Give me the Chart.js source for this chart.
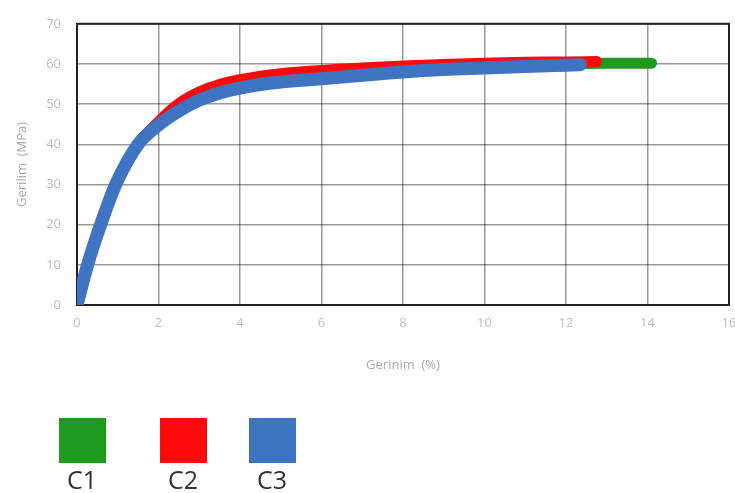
<!DOCTYPE html>
<html>
<head>
<meta charset="utf-8">
<script src="https://cdn.jsdelivr.net/npm/chart.js@4"></script>
<style>
  html, body { margin: 0; padding: 0; background: #fff; }
  #wrap { position: relative; width: 735px; height: 493px; }
  #legend { position: absolute; left: 0; top: 0; width: 735px; height: 493px; pointer-events: none; }
  .box { position: absolute; top: 418px; width: 47px; height: 45px; }
  .lbl { position: absolute; top: 462px; width: 60px; text-align: center; font-family: "Open Sans", sans-serif; font-size: 25px; color: #333; }
</style>
</head>
<body>
<div id="wrap">
  <canvas id="chart" width="735" height="493"></canvas>
  <div id="legend"></div>
</div>
<script>
const seriesNames = ["C1", "C2", "C3"];
const seriesColors = ["#1e9a1e", "#ff0a0a", "#3f74c2"];
const seriesWidths = [11, 11, 13];

// strain (%) and stress (MPa)
const c1Strain = [0, 0.26, 0.58, 0.95, 1.5, 2, 2.5, 3, 3.5, 4, 5, 6, 7, 8, 9, 10, 11, 12, 13, 14.1];
const c1Stress = [0, 10, 20, 30, 40, 45.2, 49.3, 52.2, 54.2, 55.6, 57, 57.9, 58.6, 59.1, 59.5, 59.8, 60, 60.1, 60.2, 60.2];
const c2Strain = [0, 0.26, 0.58, 0.95, 1.5, 2, 2.5, 3, 3.5, 4, 5, 6, 7, 8, 9, 10, 11, 12, 12.75];
const c2Stress = [0, 10, 20, 30, 40, 45.6, 50.1, 53, 54.9, 56.1, 57.6, 58.4, 59, 59.5, 59.9, 60.2, 60.4, 60.5, 60.6];
const c3Strain = [0, 0.26, 0.58, 0.95, 1.5, 2, 2.5, 3, 3.5, 4, 5, 6, 7, 8, 9, 10, 11, 12, 12.35];
const c3Stress = [0, 10, 20, 30, 40, 44.8, 48.3, 51, 52.8, 54, 55.5, 56.3, 57.2, 58, 58.6, 59, 59.4, 59.7, 59.8];

const xTicks = [0, 2, 4, 6, 8, 10, 12, 14, 16];
const yTicks = [0, 10, 20, 30, 40, 50, 60, 70];

const strains = [c1Strain, c2Strain, c3Strain];
const stresses = [c1Stress, c2Stress, c3Stress];

const datasets = seriesNames.map((name, i) => ({
  label: name,
  data: strains[i].map((x, j) => ({ x: x, y: stresses[i][j] })),
  borderColor: seriesColors[i],
  backgroundColor: seriesColors[i],
  borderWidth: seriesWidths[i],
  borderCapStyle: "round",
  borderJoinStyle: "round",
  cubicInterpolationMode: "monotone",
  pointRadius: 0,
  fill: false,
  order: seriesNames.length - i,
}));

// black frame around the plot area
const frame = {
  id: "frame",
  beforeDatasetsDraw(chart) {
    const { ctx, chartArea: a } = chart;
    ctx.save();
    ctx.strokeStyle = "#222";
    ctx.lineWidth = 2;
    ctx.strokeRect(a.left, a.top, a.right - a.left, a.bottom - a.top);
    ctx.restore();
  },
};

const tickColor = "#bdbdbd";
const gridColor = "rgba(0,0,0,0.4)";

new Chart(document.getElementById("chart"), {
  type: "line",
  data: { datasets: datasets },
  options: {
    responsive: false,
    animation: false,
    layout: { padding: { top: 12, right: 6, bottom: 118, left: 0 } },
    scales: {
      x: {
        type: "linear",
        min: 0,
        max: 16,
        afterBuildTicks: s => { s.ticks = xTicks.map(v => ({ value: v })); },
        afterFit: s => { s.height = 70; s.paddingRight = 0; s.paddingLeft = 0; },
        ticks: { color: tickColor, padding: 10, font: { family: "Open Sans", size: 13 } },
        grid: { color: gridColor, lineWidth: 1.5, drawTicks: false },
        border: { display: false },
        title: { display: true, text: "Gerinim  (%)", color: "#aaa", padding: { top: 0, bottom: 2 }, font: { family: "Open Sans", size: 13 } },
      },
      y: {
        min: 0,
        max: 70,
        afterBuildTicks: s => { s.ticks = yTicks.map(v => ({ value: v })); },
        afterFit: s => { s.width = 77; },
        ticks: { color: tickColor, padding: 16, font: { family: "Open Sans", size: 13 } },
        grid: { color: gridColor, lineWidth: 1.5, drawTicks: false },
        border: { display: false },
        title: { display: true, text: "Gerilim  (MPa)", color: "#aaa", padding: { top: 14, bottom: 0 }, font: { family: "Open Sans", size: 13 } },
      },
    },
    plugins: {
      legend: { display: false },
      tooltip: { enabled: false },
    },
  },
  plugins: [frame],
});

// legend under the chart: coloured squares with names beneath
const boxLeft = [59, 160, 249];
const legend = document.getElementById("legend");
seriesNames.forEach((name, i) => {
  const b = document.createElement("div");
  b.className = "box";
  b.style.left = boxLeft[i] + "px";
  b.style.background = seriesColors[i];
  legend.appendChild(b);
  const l = document.createElement("div");
  l.className = "lbl";
  l.style.left = boxLeft[i] + 23 - 30 + "px";
  l.textContent = name;
  legend.appendChild(l);
});
</script>
</body>
</html>
